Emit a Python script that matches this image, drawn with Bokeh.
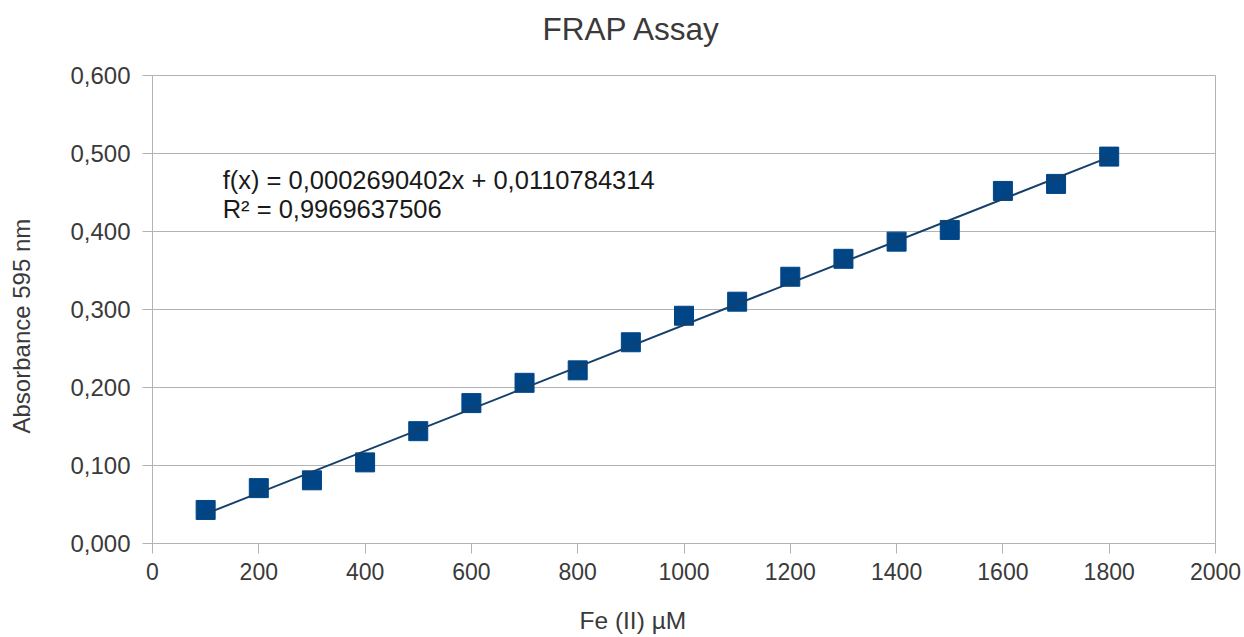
from bokeh.plotting import figure
from bokeh.models import (ColumnDataSource, FixedTicker, CustomJSTickFormatter,
                          Label, Range1d, Title)
from bokeh.embed import file_html
from bokeh.resources import INLINE

# Fe(II) standard concentrations (µM) and measured absorbance at 595 nm
concentration = [100, 200, 300, 400, 500, 600, 700, 800, 900,
                 1000, 1100, 1200, 1300, 1400, 1500, 1600, 1700, 1800]
absorbance = [0.043, 0.071, 0.081, 0.104, 0.144, 0.180, 0.206, 0.222, 0.258,
              0.292, 0.310, 0.342, 0.365, 0.387, 0.402, 0.452, 0.461, 0.496]

# Linear trend line reported for the calibration
slope = 0.0002690402
intercept = 0.0110784314
r_squared_text = "R² = 0,9969637506"
fit_text = "f(x) = 0,0002690402x + 0,0110784314"
title_text = "FRAP Assay"
x_label = "Fe (II) µM"
y_label = "Absorbance 595 nm"

x_ticks = [0, 200, 400, 600, 800, 1000, 1200, 1400, 1600, 1800, 2000]
y_ticks = [0.0, 0.1, 0.2, 0.3, 0.4, 0.5, 0.6]

FONT = "Liberation Sans"
GRID = "#b3b3b3"
TEXT = "#3a3a3a"
BLUE = "#004586"

p = figure(width=1244, height=637, output_backend="svg", toolbar_location=None,
           x_range=Range1d(0, 2000), y_range=Range1d(0, 0.6),
           min_border_left=152, min_border_right=29,
           min_border_top=75, min_border_bottom=94)
p.background_fill_color = "white"
p.border_fill_color = "white"
p.outline_line_color = GRID
p.outline_line_width = 1

# axes
p.xaxis.ticker = FixedTicker(ticks=x_ticks)
p.yaxis.ticker = FixedTicker(ticks=y_ticks)
p.yaxis.formatter = CustomJSTickFormatter(
    code="return tick.toFixed(3).replace('.', ',');")
for ax in (p.xaxis[0], p.yaxis[0]):
    ax.axis_line_color = GRID
    ax.major_tick_line_color = GRID
    ax.major_tick_out = 10
    ax.major_tick_in = 0
    ax.minor_tick_line_color = None
    ax.major_label_text_font = FONT
    ax.major_label_text_color = TEXT
p.yaxis.major_label_text_font_size = "24px"
p.xaxis.major_label_text_font_size = "23px"
p.yaxis.major_label_standoff = 12
p.xaxis.major_label_standoff = 9

p.xgrid.grid_line_color = None
p.ygrid.grid_line_color = GRID
p.ygrid.grid_line_width = 1


def gap(size):
    # empty panel used to keep a title away from the plot area
    return Title(text=" ", text_font_size="1px", standoff=size)


def caption(text, size, offset, valign):
    return Title(text=text, text_font=FONT, text_font_size=size,
                 text_font_style="normal", text_color=TEXT, align="left",
                 offset=offset, vertical_align=valign, standoff=0)


# chart title and axis titles, placed outside the plot area
p.add_layout(gap(26), "above")
p.add_layout(caption(title_text, "31.5px", 390, "bottom"), "above")
p.add_layout(gap(21), "below")
p.add_layout(caption(x_label, "24.5px", 427, "top"), "below")
p.add_layout(gap(30), "left")
p.add_layout(caption(y_label, "24px", 110, "bottom"), "left")

src = ColumnDataSource(data=dict(x=concentration, y=absorbance))
p.scatter("x", "y", source=src, marker="square", size=19,
          fill_color=BLUE, line_color=BLUE)

# trend line over the measured range
x0, x1 = concentration[0], concentration[-1]
p.line([x0, x1], [slope * x0 + intercept, slope * x1 + intercept],
       line_color="#15406b", line_width=2)

p.add_layout(Label(x=132, y=0.484, text=fit_text, text_font=FONT,
                   text_font_size="25.5px", text_color="#1a1a1a",
                   text_baseline="top"))
p.add_layout(Label(x=132, y=0.447, text=r_squared_text, text_font=FONT,
                   text_font_size="25.5px", text_color="#1a1a1a",
                   text_baseline="top"))

open("out.html", "w").write(file_html(p, INLINE))
